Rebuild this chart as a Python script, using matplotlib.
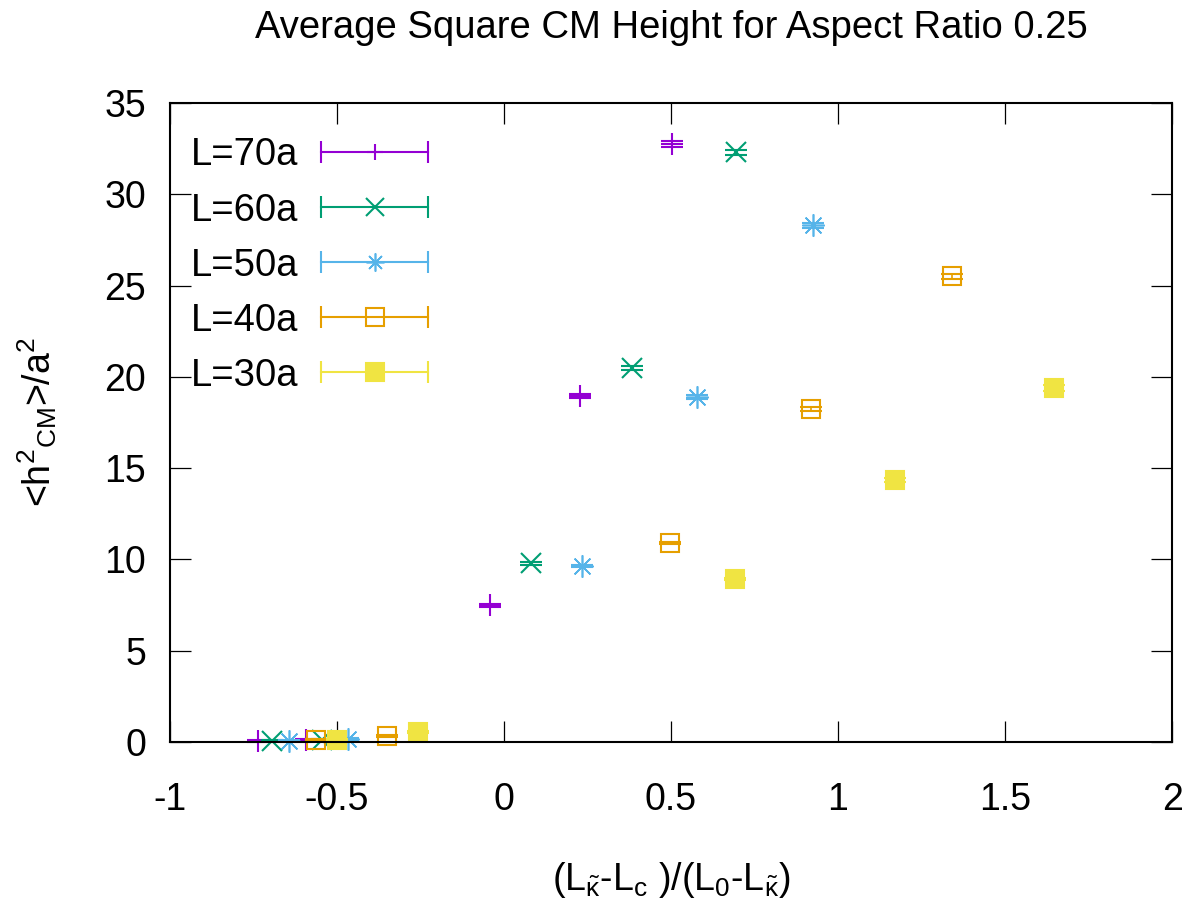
import numpy as np
import matplotlib.pyplot as plt
from matplotlib.lines import Line2D
from matplotlib.legend_handler import HandlerLine2D, HandlerTuple

plt.rcParams['font.family'] = ['Liberation Sans', 'DejaVu Sans']
plt.rcParams['mathtext.fontset'] = 'custom'
plt.rcParams['mathtext.rm'] = 'Liberation Sans'
plt.rcParams['mathtext.it'] = 'Liberation Sans'
plt.rcParams['mathtext.sf'] = 'Liberation Sans'

# data
labels = ['L=70a', 'L=60a', 'L=50a', 'L=40a', 'L=30a']
x70 = [-0.737, -0.593, -0.042, 0.228, 0.503]
y70 = [0.05, 0.1, 7.5, 18.95, 32.75]
x60 = [-0.695, -0.545, 0.081, 0.383, 0.695]
y60 = [0.08, 0.12, 9.8, 20.5, 32.3]
x50 = [-0.644, -0.467, 0.234, 0.578, 0.925]
y50 = [0.08, 0.15, 9.64, 18.9, 28.3]
x40 = [-0.563, -0.35, 0.497, 0.919, 1.341]
y40 = [0.1, 0.33, 10.9, 18.24, 25.5]
x30 = [-0.5, -0.257, 0.692, 1.171, 1.647]
y30 = [0.1, 0.55, 8.93, 14.35, 19.4]
err = [0.05, 0.05, 0.08, 0.1, 0.15]

xs = [x70, x60, x50, x40, x30]
ys = [y70, y60, y50, y40, y30]
colors = ['#9400d3', '#009e73', '#56b4e9', '#e69f00', '#f0e442']
markers = ['+', 'x', (8, 2, 0), 's', 's']
msizes = [16, 15, 16, 13.5, 13.5]
leg_ms = [12, 13, 13, 13, 13]
mews = [1.5, 1.5, 1.2, 1.5, 1.5]
filled = [True, True, True, False, True]

fig = plt.figure(figsize=(11.96, 9.07), dpi=100)
ax = fig.add_axes([0.1421, 0.1819, 0.8379, 0.7045])

handles = []
hmap = {}
for x, y, c, m, ms, lms, mw, f in zip(xs, ys, colors, markers, msizes, leg_ms, mews, filled):
    fc = c if f else 'none'
    ax.errorbar(x, y, yerr=err, fmt='none', ecolor=c, elinewidth=1.2,
                capsize=8, capthick=1.5, clip_on=False)
    ax.plot(x, y, ls='none', marker=m, ms=ms, mec=c, mfc=fc, mew=mw, clip_on=False)
    bar = Line2D([], [], color=c, lw=1.5, marker='|', ms=16, mew=1.5)
    mk = Line2D([], [], ls='none', marker=m, ms=lms, mec=c, mfc=fc, mew=mw)
    hmap[bar] = HandlerLine2D(numpoints=2, marker_pad=0)
    hmap[mk] = HandlerLine2D(numpoints=1)
    handles.append((bar, mk))
hmap[tuple] = HandlerTuple(ndivide=1, pad=0)

leg = ax.legend(handles, labels, handler_map=hmap, loc='upper left',
                bbox_to_anchor=(-0.006, 0.988), markerfirst=False, frameon=False,
                fontsize=27.5, handlelength=2.8, handletextpad=0.6,
                labelspacing=0.5, borderaxespad=0.3)

ax.set_xlim(-1, 2)
ax.set_ylim(0, 35)
ax.set_xticks(np.arange(-1, 2.01, 0.5))
ax.set_xticklabels(['-1', '-0.5', '0', '0.5', '1', '1.5', '2'])
ax.set_yticks(np.arange(0, 36, 5))
ax.tick_params(direction='in', length=15, width=0.9, labelsize=27,
               top=True, right=True)
ax.tick_params(axis='x', pad=29)
ax.tick_params(axis='y', pad=17)
for s in ax.spines.values():
    s.set_linewidth(1.5)

ax.set_title('Average Square CM Height for Aspect Ratio 0.25', fontsize=27.5, pad=47)
ax.set_xlabel(r'(L$_{\tilde{\kappa}}$-L$_{\rm c}$ )/(L$_0$-L$_{\tilde{\kappa}}$)',
              fontsize=27, labelpad=30)
ax.set_ylabel(r'<h$^{2}$$_{\rm CM}$>/a$^2$', fontsize=27, labelpad=33)

plt.savefig('out.png', dpi=100)
